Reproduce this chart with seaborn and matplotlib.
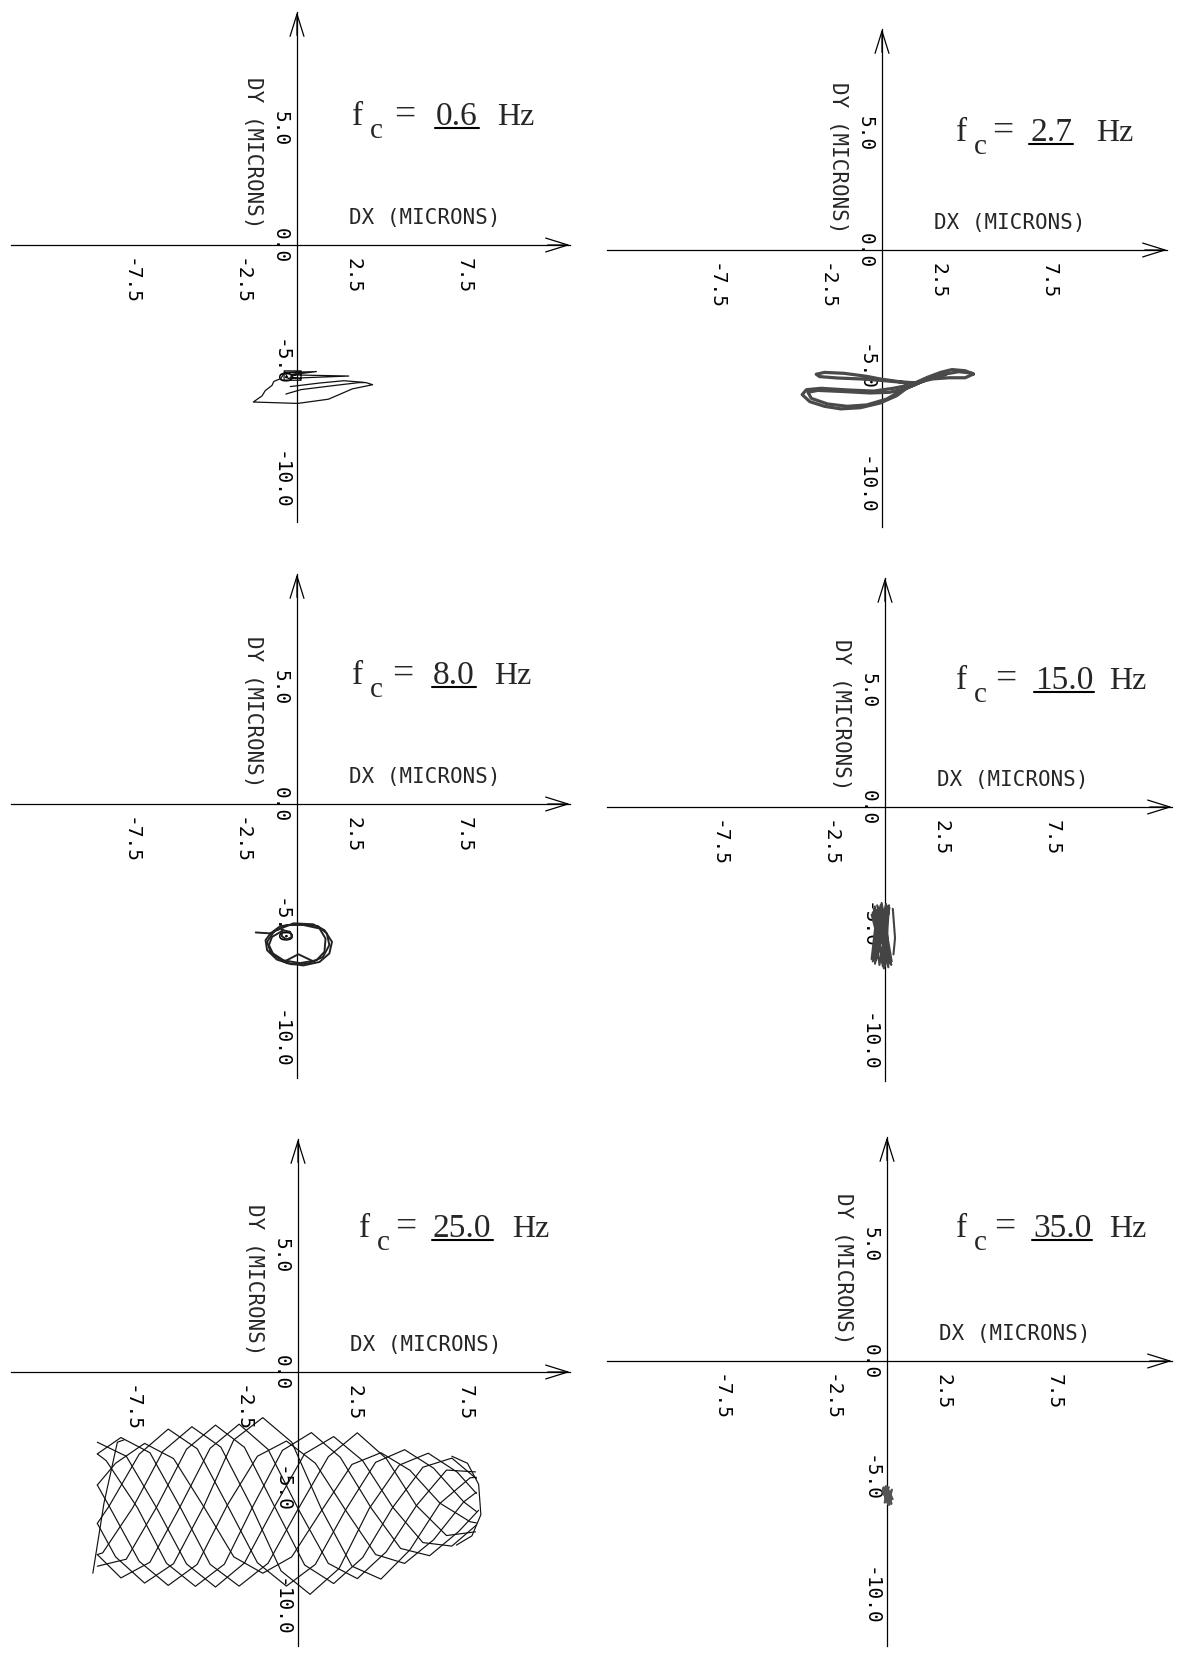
import matplotlib
matplotlib.use("Agg")
import pandas as pd
import seaborn as sns
import matplotlib.pyplot as plt

sns.set_style("white")
plt.rcParams["font.family"] = ["DejaVu Sans Mono", "DejaVu Sans"]
plt.rcParams["axes.unicode_minus"] = False

W, H = 1187, 1656
SX, SY = 22.3, 23.4  # pixels per micron on the page

FREQS = ["0.6", "2.7", "8.0", "15.0", "25.0", "35.0"]
X_TICKS = [-7.5, -2.5, 2.5, 7.5]
X_TICK_LABELS = ["-7.5", "-2.5", "2.5", "7.5"]
Y_TICKS = [5.0, 0.0, -5.0, -10.0]
Y_TICK_LABELS = ["5.0", "0.0", "-5.0", "-10.0"]

# ---- orbit traces (microns) ----
# fc = 0.6 Hz
F06_A_X = [-0.55, 0.87, -0.30, 2.32, -0.40, -0.58, 0.18, 0.18, -0.58, -0.58, 0.10, -0.30, 0.15]
F06_A_Y = [-5.45, -5.41, -5.55, -5.60, -5.70, -5.38, -5.38, -5.78, -5.78, -5.45, -5.47, -5.65, -5.72]
F06_B_X = [-0.50, 0.18, 1.71, 2.78, 3.09, 3.39, 2.48, 1.41, 0.03, -1.96, -1.57, -1.42, -1.12, -1.04, -0.73, -0.58]
F06_B_Y = [-6.37, -6.18, -6.00, -5.88, -5.88, -5.97, -6.15, -6.59, -6.77, -6.71, -6.45, -6.22, -6.00, -5.83, -5.71, -5.49]
F06_C_X = [-0.30, 1.00, 2.10, 3.00]
F06_C_Y = [-6.05, -5.90, -5.80, -5.87]

# fc = 2.7 Hz
F27_A_X = [4.10, 3.73, 3.14, 2.63, 2.04, 1.53, 1.09, 0.50, -0.38, -1.56, -2.73, -3.39, -3.58, -3.24, -2.58, -1.85,
           -0.97, -0.09, 0.65, 1.16, 1.45, 0.94, 0.06, -0.97, -2.00, -2.80, -2.95, -2.58, -1.70, -0.68, -0.09,
           0.79, 1.53, 2.26, 3.00, 3.73, 4.10]
F27_A_Y = [-5.30, -5.16, -5.11, -5.23, -5.44, -5.66, -5.80, -5.91, -6.03, -5.98, -5.91, -5.97, -6.18, -6.48, -6.68, -6.79,
           -6.74, -6.54, -6.23, -5.87, -5.77, -5.66, -5.58, -5.51, -5.47, -5.41, -5.31, -5.23, -5.27, -5.40, -5.51,
           -5.63, -5.68, -5.51, -5.46, -5.46, -5.30]
F27_B_X = [2.85, 2.26, 1.53, 1.09, 0.35, -0.53, -1.70, -2.88, -3.32, -3.17, -2.44, -1.56, -0.68, 0.21, 0.94,
           1.53, 2.41, 3.44, 4.02]
F27_B_Y = [-5.34, -5.44, -5.73, -5.91, -6.08, -6.11, -6.05, -6.00, -6.08, -6.34, -6.58, -6.68, -6.62, -6.37, -5.97,
           -5.73, -5.37, -5.20, -5.26]

# fc = 8.0 Hz
F80_A_X = [-1.19, -0.75, 0.06, 0.94, 1.34, 1.45, 1.16, 0.50, -0.23, -0.90, -1.34, -1.41, -1.19]
F80_A_Y = [-5.53, -5.22, -5.13, -5.22, -5.53, -6.03, -6.54, -6.82, -6.85, -6.65, -6.25, -5.82, -5.53]
F80_B_X = [-1.04, -0.46, 0.28, 1.01, 1.28, 1.23, 0.87, 0.13, -0.60, -1.19, -1.34, -1.04]
F80_B_Y = [-5.46, -5.17, -5.17, -5.32, -5.75, -6.32, -6.68, -6.80, -6.68, -6.32, -5.89, -5.46]
F80_C_X = [-0.90, -0.16, 0.72, 1.23, 1.57, 1.45, 1.01, 0.28, -0.46, -1.04, -1.26, -1.12, -0.60]
F80_C_Y = [-5.39, -5.10, -5.14, -5.39, -5.89, -6.39, -6.75, -6.90, -6.80, -6.47, -6.03, -5.68, -5.39]
F80_D_X = [-0.68, -0.31, -0.23, -0.46, -0.68, -0.68]
F80_D_Y = [-5.39, -5.46, -5.68, -5.79, -5.65, -5.39]
F80_E_X = [-1.85, -1.19]
F80_E_Y = [-5.49, -5.53]
F80_F_X = [-0.60, 0.06, 0.79]
F80_F_Y = [-6.75, -6.42, -6.75]

# fc = 15.0 Hz
F15_A_X = [-0.45, -0.10, 0.10, -0.55, -0.20, 0.25, -0.35, -0.60, 0.05, 0.15, -0.50, -0.25, 0.20, -0.40, -0.15,
           0.30, -0.55, -0.05, 0.10, -0.45, -0.30, 0.22, -0.60, 0.00, 0.18, -0.50, -0.20, 0.28, -0.35]
F15_A_Y = [-4.25, -6.80, -4.30, -6.60, -4.20, -6.70, -4.40, -6.50, -4.15, -6.85, -4.35, -6.75, -4.30, -6.55, -4.10,
           -6.60, -4.50, -6.90, -4.25, -6.70, -4.30, -6.45, -4.60, -6.80, -4.20, -6.40, -4.45, -6.75, -4.20]
F15_B_X = [0.35, 0.45, 0.38]
F15_B_Y = [-4.35, -5.60, -6.30]

# fc = 25.0 Hz, one array pair per pass across the plot
F25_S0_X = [-9.0, -7.7, -6.35, -5.0, -3.7, -2.4, -1.05, 0.3, 1.6, 2.9, 4.25, 5.6, 6.9, 8.0]
F25_S0_Y = [-3.0, -3.6, -5.79, -8.2, -9.19, -8.16, -5.75, -3.49, -2.76, -3.79, -5.78, -7.29, -7.44, -6.54]
F25_S1_X = [-9.0, -7.94, -6.64, -5.29, -3.94, -2.64, -1.34, 0.01, 1.36, 2.66, 3.96, 5.31, 6.66, 7.96]
F25_S1_Y = [-3.5, -2.8, -3.45, -5.76, -8.22, -9.15, -8.17, -5.85, -3.62, -2.6, -3.7, -5.71, -6.99, -6.83]
F25_S2_X = [-9.0, -8.18, -6.88, -5.58, -4.23, -2.88, -1.58, -0.28, 1.07, 2.42, 3.72, 5.02, 6.37, 7.72, 8.0]
F25_S2_Y = [-4.83, -3.9, -3.05, -3.7, -5.75, -7.9, -8.6, -7.9, -5.9, -3.95, -3.45, -4.2, -5.61, -6.4, -6.45]
F25_S3_X = [-9.0, -8.47, -7.12, -5.82, -4.52, -3.17, -1.82, -0.52, 0.78, 2.13, 3.48, 4.78, 6.08, 7.43, 8.0]
F25_S3_Y = [-6.47, -5.73, -3.51, -2.44, -3.28, -5.69, -8.15, -9.15, -8.22, -5.9, -3.86, -3.32, -4.11, -5.55, -5.96]
F25_S4_X = [-9.0, -8.76, -7.41, -6.06, -4.76, -3.46, -2.11, -0.76, 0.54, 1.84, 3.19, 4.54, 5.84, 7.14, 8.0]
F25_S4_Y = [-7.8, -7.73, -5.8, -3.39, -2.34, -3.21, -5.7, -8.5, -9.5, -8.4, -5.84, -3.98, -3.47, -4.28, -5.19]
F25_S5_X = [-9.0, -7.7, -6.35, -5.0, -3.7, -2.4, -1.05, 0.3, 1.6, 2.9, 4.25, 5.6, 6.9, 8.0]
F25_S5_Y = [-8.3, -8.0, -5.79, -3.3, -2.27, -3.22, -5.75, -8.25, -9.04, -7.93, -5.78, -4.07, -3.68, -4.56]
F25_S6_X = [-9.0, -7.94, -6.64, -5.29, -3.94, -2.64, -1.34, 0.01, 1.36, 2.66, 3.96, 5.31, 6.66, 7.96]
F25_S6_Y = [-7.8, -8.8, -8.13, -5.76, -3.26, -2.23, -3.31, -5.85, -8.18, -8.83, -7.68, -5.71, -4.19, -4.27]
F25_S7_X = [-9.0, -8.18, -6.88, -5.58, -4.23, -2.88, -1.58, -0.28, 1.07, 2.42, 3.72, 5.02, 6.37, 7.72, 8.0]
F25_S7_Y = [-6.47, -7.9, -9.02, -8.19, -5.75, -2.9, -1.95, -3.0, -5.9, -8.3, -8.85, -7.6, -5.61, -4.52, -4.5]
F25_S8_X = [-9.0, -8.47, -7.12, -5.82, -4.52, -3.17, -1.82, -0.52, 0.78, 2.13, 3.48, 4.78, 6.08, 7.43, 8.0]
F25_S8_Y = [-4.83, -5.73, -8.09, -9.12, -8.22, -5.69, -3.6, -2.95, -3.9, -5.9, -7.8, -8.18, -7.17, -5.55, -5.14]
F25_S9_X = [-9.0, -8.6, -7.2, -5.9, -4.6, -3.3, -2.0, -0.7, 0.6, 1.9, 3.3, 4.6, 5.9, 7.2, 8.1]
F25_S9_Y = [-3.5, -3.79, -5.8, -8.17, -9.16, -8.21, -5.7, -3.35, -2.59, -3.65, -5.84, -7.54, -7.85, -6.82, -5.91]
# turn-round strokes at the two ends
F25_L_X = [-9.2, -8.7, -8.1, -7.8]
F25_L_Y = [-8.6, -5.6, -3.0, -2.9]
F25_R_X = [6.9, 7.6, 8.1, 8.2, 7.8, 7.1]
F25_R_Y = [-3.6, -3.9, -4.8, -6.1, -7.0, -7.4]

# fc = 35.0 Hz
F35_X = [-0.15, 0.20, -0.05, 0.10, -0.20, 0.25, 0.00, -0.10, 0.22, 0.05, -0.18, 0.15, -0.08, 0.18, -0.12, 0.08]
F35_Y = [-5.40, -6.10, -5.35, -6.15, -5.55, -5.90, -5.38, -6.05, -5.50, -6.12, -5.45, -5.95, -5.42, -6.08, -5.70, -5.40]

ORBITS = [
    [(F06_A_X, F06_A_Y), (F06_B_X, F06_B_Y), (F06_C_X, F06_C_Y)],
    [(F27_A_X, F27_A_Y), (F27_B_X, F27_B_Y)],
    [(F80_A_X, F80_A_Y), (F80_B_X, F80_B_Y), (F80_C_X, F80_C_Y), (F80_D_X, F80_D_Y), (F80_E_X, F80_E_Y), (F80_F_X, F80_F_Y)],
    [(F15_A_X, F15_A_Y), (F15_B_X, F15_B_Y)],
    [(F25_S0_X, F25_S0_Y), (F25_S1_X, F25_S1_Y), (F25_S2_X, F25_S2_Y), (F25_S3_X, F25_S3_Y), (F25_S4_X, F25_S4_Y),
     (F25_S5_X, F25_S5_Y), (F25_S6_X, F25_S6_Y), (F25_S7_X, F25_S7_Y), (F25_S8_X, F25_S8_Y), (F25_S9_X, F25_S9_Y),
     (F25_L_X, F25_L_Y), (F25_R_X, F25_R_Y)],
    [(F35_X, F35_Y)],
]

# page layout (pixels): origin x/y, left, right, top, bottom
LAYOUT = [
    (297, 246, 11, 570, 13, 523),
    (882, 251, 607, 1167, 30, 528),
    (297, 805, 11, 570, 575, 1079),
    (885, 808, 607, 1172, 579, 1082),
    (298, 1373, 11, 570, 1140, 1647),
    (887, 1362, 607, 1172, 1138, 1647),
]
# title pieces (pixels from origin): f, value, Hz left edges and baseline
TITLE_POS = [(55, 139, 200, -121), (74, 148, 214, -110), (55, 136, 197, -121),
             (71, 150, 224, -119), (61, 135, 214, -136), (69, 146, 222, -125)]
STYLE = [("#111111", 0.9), ("#4a4a4a", 2.3), ("#222222", 1.4), ("#444444", 1.5), ("#111111", 0.85), ("#555555", 1.6)]


def orbit_frame(paths):
    parts = [pd.DataFrame({"dx": xs, "dy": ys, "path": i}) for i, (xs, ys) in enumerate(paths)]
    return pd.concat(parts, ignore_index=True)


fig = plt.figure(figsize=(W / 100, H / 100), dpi=100)
renderer = fig.canvas.get_renderer()
serif = "Liberation Serif"

for k, (ox, oy, left, right, top, bottom) in enumerate(LAYOUT):
    ax = fig.add_axes([left / W, 1 - bottom / H, (right - left) / W, (bottom - top) / H])
    ax.patch.set_alpha(0)
    xmin, xmax = (left - ox) / SX, (right - ox) / SX
    ymin, ymax = (oy - bottom) / SY, (oy - top) / SY

    color, lw = STYLE[k]
    sns.lineplot(data=orbit_frame(ORBITS[k]), x="dx", y="dy", units="path", estimator=None, sort=False,
                 color=color, lw=lw, ax=ax, legend=False, zorder=3)
    ax.set_xlim(xmin, xmax)
    ax.set_ylim(ymin, ymax)
    ax.set_xlabel("")
    ax.set_ylabel("")

    # axes crossing at the origin
    for side in ["top", "right"]:
        ax.spines[side].set_visible(False)
    ax.spines["left"].set_position(("data", 0))
    ax.spines["bottom"].set_position(("data", 0))
    for side in ["left", "bottom"]:
        ax.spines[side].set_linewidth(0.9)
        ax.spines[side].set_color("black")
    arrow = dict(arrowstyle="->,head_length=0.8,head_width=0.25", lw=0.9, color="black",
                 shrinkA=0, shrinkB=0, mutation_scale=20)
    ax.annotate("", xy=(xmax, 0), xytext=(xmax - 1.0, 0), arrowprops=arrow, annotation_clip=False)
    ax.annotate("", xy=(0, ymax), xytext=(0, ymax - 1.0), arrowprops=arrow, annotation_clip=False)

    ax.set_xticks(X_TICKS, X_TICK_LABELS)
    ax.set_yticks(Y_TICKS, Y_TICK_LABELS)
    ax.tick_params(axis="both", direction="inout", length=7, width=0.8, labelsize=14, colors="black")
    ax.tick_params(axis="x", labelrotation=-90, pad=5)
    ax.tick_params(axis="y", labelrotation=-90, pad=2)
    for lab in ax.get_yticklabels():
        lab.set_va("center")

    ax.text(52 / SX, 28 / SY, "DX (MICRONS)", fontsize=15, ha="left", va="center")
    ax.text(-44 / SX, 93 / SY, "DY (MICRONS)", fontsize=15, rotation=-90, ha="center", va="center")

    # f_c = ... Hz with the value underlined
    f_dx, v_dx, hz_dx, base_dy = TITLE_POS[k]
    by = -base_dy / SY
    ax.text(f_dx / SX, by, "f", family=serif, fontsize=24, va="baseline")
    ax.text((f_dx + 18) / SX, by - 13 / SY, "c", family=serif, fontsize=21, va="baseline")
    ax.text((f_dx + 0.63 * (v_dx - f_dx)) / SX, by, "=", family=serif, fontsize=27, va="baseline", ha="center")
    val = ax.text(v_dx / SX, by, FREQS[k], family=serif, fontsize=24, va="baseline")
    ax.text(hz_dx / SX, by, "Hz", family=serif, fontsize=23, va="baseline")
    bb = val.get_window_extent(renderer).transformed(ax.transData.inverted())
    ax.plot([bb.x0 - 0.05, bb.x1 + 0.05], [by - 4 / SY] * 2, color="black", lw=1.5)

fig.savefig("out.png", dpi=100, facecolor="white")
